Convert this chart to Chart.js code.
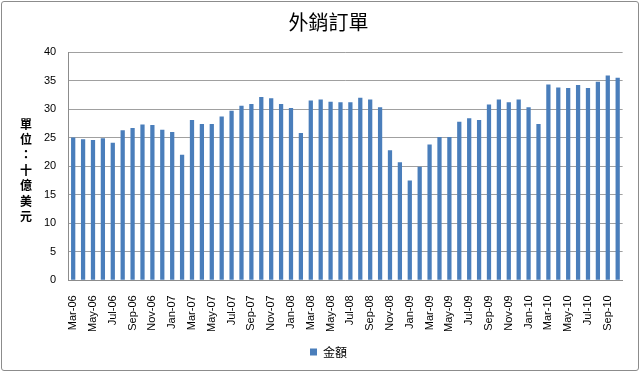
<!DOCTYPE html>
<html>
<head>
<meta charset="utf-8">
<script src="https://cdn.jsdelivr.net/npm/chart.js@4"></script>
<style>
  html, body { margin: 0; padding: 0; background: #fff; }
  #wrap { position: relative; width: 636px; height: 368px; margin: 1px; border: 1px solid #8c8c8c; border-radius: 3px; }
</style>
</head>
<body>
<div id="wrap"><canvas id="orderChart" width="636" height="368"></canvas></div>
<script>
// Monthly export orders, Mar-06 .. Oct-10
const months = ['Mar-06','Apr-06','May-06','Jun-06','Jul-06','Aug-06','Sep-06','Oct-06','Nov-06','Dec-06',
    'Jan-07','Feb-07','Mar-07','Apr-07','May-07','Jun-07','Jul-07','Aug-07','Sep-07','Oct-07','Nov-07','Dec-07',
    'Jan-08','Feb-08','Mar-08','Apr-08','May-08','Jun-08','Jul-08','Aug-08','Sep-08','Oct-08','Nov-08','Dec-08',
    'Jan-09','Feb-09','Mar-09','Apr-09','May-09','Jun-09','Jul-09','Aug-09','Sep-09','Oct-09','Nov-09','Dec-09',
    'Jan-10','Feb-10','Mar-10','Apr-10','May-10','Jun-10','Jul-10','Aug-10','Sep-10','Oct-10'];

const amounts = [25.0, 24.7, 24.6, 24.9, 24.1, 26.3, 26.7, 27.3, 27.2, 26.4,
    26.0, 22.0, 28.1, 27.4, 27.4, 28.7, 29.7, 30.6, 30.9, 32.1, 31.9, 30.9,
    30.2, 25.8, 31.5, 31.7, 31.3, 31.2, 31.2, 32.0, 31.7, 30.3, 22.8, 20.7,
    17.5, 19.9, 23.8, 25.1, 25.1, 27.8, 28.4, 28.1, 30.8, 31.7, 31.2, 31.7,
    30.3, 27.4, 34.3, 33.8, 33.7, 34.2, 33.7, 34.8, 35.9, 35.5];

const yTitle = ['單', '位', '：', '十', '億', '美', '元'];

// draws the stacked (upright) y-axis title
const stackedTitle = {
    id: 'stackedTitle',
    afterDraw(chart) {
        const ctx = chart.ctx;
        ctx.save();
        ctx.font = 'bold 12px "Noto Sans CJK TC"';
        ctx.fillStyle = '#000';
        ctx.textAlign = 'center';
        ctx.textBaseline = 'middle';
        yTitle.forEach((ch, i) => {
            ctx.fillText(ch, 24, 122 + i * 15.4);
        });
        ctx.restore();
    }
};

const ctx = document.getElementById('orderChart').getContext('2d');
new Chart(ctx, {
    type: 'bar',
    data: {
        labels: months,
        datasets: [{
            label: '金額',
            data: amounts,
            backgroundColor: '#4a7ebb',
            borderWidth: 0,
            barPercentage: 0.43,
            categoryPercentage: 1.0
        }]
    },
    options: {
        responsive: false,
        animation: false,
        layout: { padding: { left: 30, right: 13, top: 0, bottom: 2 } },
        plugins: {
            title: {
                display: true,
                text: '外銷訂單',
                color: '#000',
                font: { family: '"Noto Sans CJK TC"', size: 20, weight: 'normal' },
                padding: { top: 8, bottom: 18 }
            },
            legend: {
                position: 'bottom',
                labels: {
                    boxWidth: 7,
                    boxHeight: 7,
                    padding: 7,
                    color: '#000',
                    font: { family: '"Noto Sans CJK TC"', size: 12 }
                }
            },
            tooltip: { enabled: false }
        },
        scales: {
            x: {
                grid: { display: false, drawTicks: true },
                border: { color: '#8c8c8c' },
                ticks: {
                    autoSkip: false,
                    maxRotation: 90,
                    minRotation: 90,
                    padding: 7,
                    color: '#000',
                    font: { family: 'Arial, "Liberation Sans"', size: 11 },
                    callback: function(v, i) { return i % 2 === 0 ? months[i] : ''; }
                }
            },
            y: {
                min: 0,
                max: 40,
                ticks: {
                    stepSize: 5,
                    color: '#000',
                    padding: 12,
                    font: { family: 'Arial, "Liberation Sans"', size: 11 }
                },
                grid: { color: '#a0a0a0', drawTicks: false },
                border: { color: '#8c8c8c' }
            }
        }
    },
    plugins: [stackedTitle]
});
</script>
</body>
</html>
